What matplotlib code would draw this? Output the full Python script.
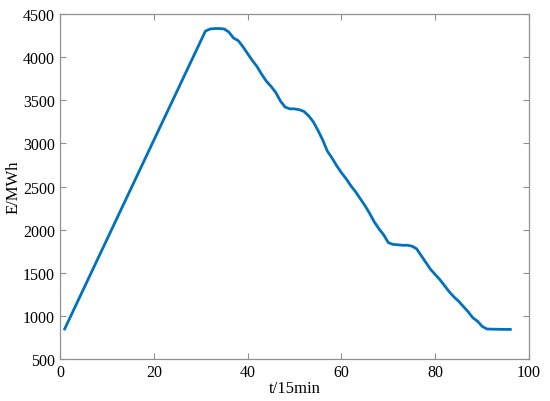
import matplotlib
matplotlib.use("Agg")
import matplotlib.pyplot as plt

t = list(range(1, 97))
energy = [850, 965, 1080, 1195, 1310, 1425, 1540, 1655, 1770, 1885,
          2000, 2115, 2230, 2345, 2460, 2575, 2690, 2805, 2920, 3035,
          3150, 3265, 3380, 3495, 3610, 3725, 3840, 3955, 4070, 4185,
          4300, 4325, 4330, 4330, 4325, 4290, 4220, 4190, 4120, 4040,
          3960, 3890, 3800, 3720, 3660, 3590, 3490, 3420, 3400, 3400,
          3390, 3370, 3320, 3250, 3150, 3040, 2910, 2830, 2740, 2660,
          2590, 2510, 2440, 2360, 2280, 2190, 2090, 2010, 1940, 1850,
          1830, 1825, 1820, 1820, 1810, 1780, 1700, 1620, 1540, 1480,
          1420, 1350, 1280, 1220, 1170, 1110, 1050, 980, 940, 880,
          850, 848, 847, 846, 845, 845]

xticks = [0, 20, 40, 60, 80, 100]
yticks = [500, 1000, 1500, 2000, 2500, 3000, 3500, 4000, 4500]

plt.rcParams['font.family'] = ['Liberation Serif', 'DejaVu Serif']
fig = plt.figure(figsize=(5.5, 4.02), dpi=100)
ax = fig.add_axes([0.109, 0.104, 0.853, 0.859])
ax.plot(t, energy, color='#0072BD', linewidth=2)
ax.set_xlim(0, 100)
ax.set_ylim(500, 4500)
ax.set_xticks(xticks)
ax.set_yticks(yticks)
ax.tick_params(direction='in', top=True, right=True, labelsize=11.5, length=4,
               color='#909090', labelcolor='black', width=0.8)
for s in ax.spines.values():
    s.set_color('#909090')
    s.set_linewidth(0.9)
ax.set_xlabel('t/15min', fontsize=12, labelpad=0)
ax.set_ylabel('E/MWh', fontsize=12, labelpad=1)
fig.savefig('out.png', dpi=100)
